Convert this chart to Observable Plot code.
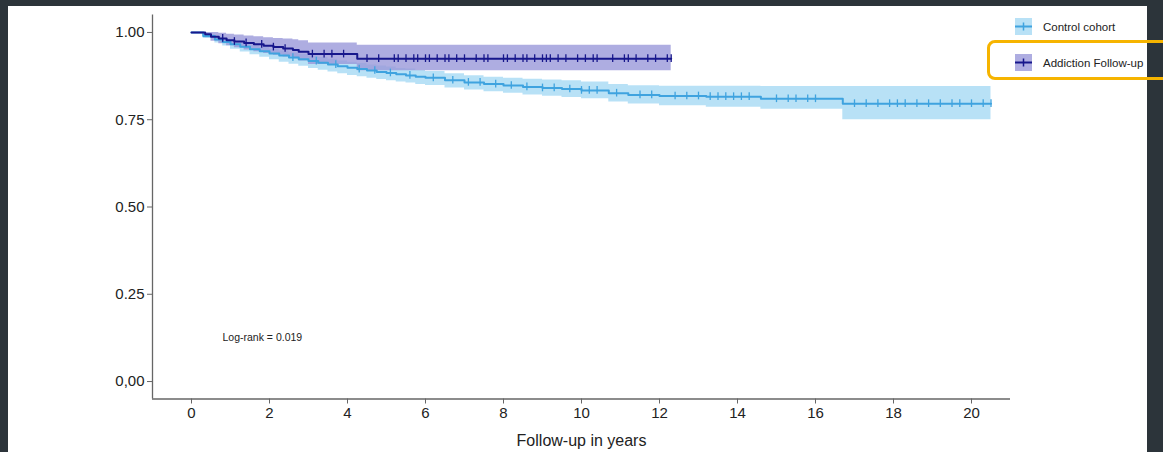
<!DOCTYPE html>
<html>
<head>
<meta charset="utf-8">
<script src="https://cdn.jsdelivr.net/npm/d3@7"></script>
<script src="https://cdn.jsdelivr.net/npm/@observablehq/plot@0.6"></script>
<style>
  html, body { margin: 0; padding: 0; }
  body { width: 1163px; height: 452px; background: #2c343a; position: relative; overflow: hidden; font-family: "Liberation Sans", Arial, sans-serif; }
  #panel { position: absolute; left: 8px; top: 6px; width: 1139px; height: 446px; background: #fff; overflow: hidden; }
  #chart { position: absolute; left: 0; top: 0; }
  .leg { position: absolute; left: 1007px; height: 17px; display: flex; align-items: center; white-space: nowrap; font-size: 11.5px; color: #222; }
  .leg svg { margin-right: 11px; flex: none; }
  #hl { position: absolute; left: 987px; top: 40px; width: 200px; height: 34px; border: 3px solid #f6b400; border-radius: 8px; }
</style>
</head>
<body>
<div id="panel">
  <div id="chart"></div>
  <div class="leg" id="leg1" style="top:12px"></div>
  <div class="leg" id="leg2" style="top:48px"></div>
</div>
<div id="hl"></div>
<script>
// ---- data ----
const seriesNames = ["Control cohort", "Addiction Follow-up"];
const seriesLine = ["#3fa3df", "#17178c"];
const seriesBand = ["#a6daf4", "#9a99d9"];

const controlTime = [0, 0.3, 0.6, 0.8, 1.0, 1.25, 1.5, 1.75, 2.0, 2.25, 2.5, 2.75, 3.0, 3.25, 3.5, 3.75, 4.0, 4.25, 4.5, 4.75, 5.0, 5.25, 5.5, 5.75, 6.0, 6.5, 7.0, 7.5, 8.0, 8.5, 9.0, 9.5, 10.0, 10.7, 11.2, 12.0, 13.2, 14.6, 16.7, 20.5];
const controlSurv = [1.000, 0.990, 0.980, 0.973, 0.966, 0.959, 0.952, 0.946, 0.940, 0.934, 0.928, 0.923, 0.918, 0.913, 0.908, 0.903, 0.899, 0.895, 0.891, 0.887, 0.884, 0.880, 0.877, 0.873, 0.870, 0.863, 0.857, 0.852, 0.848, 0.844, 0.841, 0.838, 0.834, 0.826, 0.821, 0.818, 0.816, 0.810, 0.796, 0.796];
const controlLower = [1.000, 0.983, 0.970, 0.961, 0.952, 0.944, 0.936, 0.929, 0.922, 0.915, 0.909, 0.903, 0.897, 0.892, 0.887, 0.882, 0.877, 0.873, 0.869, 0.865, 0.862, 0.858, 0.855, 0.851, 0.848, 0.841, 0.835, 0.830, 0.826, 0.821, 0.817, 0.814, 0.810, 0.801, 0.795, 0.790, 0.786, 0.780, 0.750, 0.750];
const controlUpper = [1.000, 0.995, 0.987, 0.981, 0.975, 0.969, 0.963, 0.957, 0.952, 0.947, 0.941, 0.937, 0.932, 0.928, 0.923, 0.918, 0.915, 0.911, 0.907, 0.904, 0.901, 0.897, 0.895, 0.891, 0.888, 0.882, 0.876, 0.872, 0.869, 0.866, 0.864, 0.862, 0.858, 0.851, 0.847, 0.846, 0.846, 0.845, 0.845, 0.845];
const controlCensor = [2.6, 3.2, 3.7, 4.3, 4.7, 5.1, 5.6, 6.2, 6.7, 7.1, 7.4, 7.8, 8.2, 8.6, 9.0, 9.3, 9.7, 10.0, 10.2, 10.4, 10.9, 11.5, 11.8, 12.4, 12.7, 13.0, 13.3, 13.5, 13.7, 13.9, 14.1, 14.3, 15.0, 15.3, 15.5, 15.8, 16.0, 17.0, 17.3, 17.6, 17.9, 18.1, 18.3, 18.6, 18.9, 19.2, 19.5, 19.7, 20.0, 20.3, 20.5];

const addictionTime = [0, 0.35, 0.5, 0.7, 0.9, 1.1, 1.35, 1.6, 1.85, 2.1, 2.35, 2.6, 2.75, 3.0, 4.25, 12.3];
const addictionSurv = [1.000, 0.995, 0.988, 0.983, 0.978, 0.974, 0.970, 0.966, 0.962, 0.958, 0.954, 0.950, 0.945, 0.938, 0.925, 0.925];
const addictionLower = [1.000, 0.985, 0.975, 0.968, 0.962, 0.956, 0.950, 0.945, 0.940, 0.935, 0.930, 0.925, 0.918, 0.908, 0.890, 0.890];
const addictionUpper = [1.000, 1.000, 1.000, 0.998, 0.995, 0.993, 0.990, 0.988, 0.985, 0.983, 0.981, 0.979, 0.976, 0.970, 0.963, 0.963];
const addictionCensor = [0.8, 1.1, 1.4, 1.8, 2.1, 2.4, 3.1, 3.4, 3.6, 3.9, 4.5, 4.8, 5.2, 5.3, 5.5, 5.7, 5.8, 6.0, 6.1, 6.3, 6.5, 6.6, 6.8, 7.0, 7.3, 7.5, 7.6, 8.0, 8.1, 8.3, 8.5, 8.6, 8.8, 9.0, 9.1, 9.2, 9.4, 9.6, 9.9, 10.1, 10.3, 10.4, 10.8, 11.1, 11.2, 11.4, 11.7, 11.9, 12.2, 12.3];

const xTicks = [0, 2, 4, 6, 8, 10, 12, 14, 16, 18, 20];
const yTicks = [0, 0.25, 0.5, 0.75, 1];
const yTickLabels = ["0,00", "0.25", "0.50", "0.75", "1.00"];
const xLabel = "Follow-up in years";
const annotation = "Log-rank = 0.019";

// ---- build tables ----
function table(t, s, lo, hi) { return t.map((d, i) => ({t: d, s: s[i], lo: lo[i], hi: hi[i]})); }
const control = table(controlTime, controlSurv, controlLower, controlUpper);
const addiction = table(addictionTime, addictionSurv, addictionLower, addictionUpper);
function survAt(times, surv, x) { const i = d3.bisectRight(times, x) - 1; return surv[Math.max(0, i)]; }
const controlC = controlCensor.map(t => ({t, s: survAt(controlTime, controlSurv, t)}));
const addictionC = addictionCensor.map(t => ({t, s: survAt(addictionTime, addictionSurv, t)}));
const tickHalf = 0.011;

const font = "'Liberation Sans', Arial, sans-serif";
const axisColor = "#666";

const chart = Plot.plot({
  width: 1139,
  height: 446,
  marginLeft: 144,
  marginRight: 137,
  marginTop: 8.5,
  marginBottom: 53.5,
  style: {fontFamily: font, background: "transparent", color: "#222"},
  x: {domain: [-1, 21]},
  y: {domain: [-0.05, 1.05]},
  marks: [
    Plot.areaY(control, {x: "t", y1: "lo", y2: "hi", curve: "step-after", fill: seriesBand[0], fillOpacity: 0.8}),
    Plot.areaY(addiction, {x: "t", y1: "lo", y2: "hi", curve: "step-after", fill: seriesBand[1], fillOpacity: 0.8}),
    Plot.line(control, {x: "t", y: "s", curve: "step-after", stroke: seriesLine[0], strokeWidth: 2}),
    Plot.ruleX(controlC, {x: "t", y1: d => d.s - tickHalf, y2: d => d.s + tickHalf, stroke: seriesLine[0], strokeWidth: 1.3}),
    Plot.line(addiction, {x: "t", y: "s", curve: "step-after", stroke: seriesLine[1], strokeWidth: 2}),
    Plot.ruleX(addictionC, {x: "t", y1: d => d.s - tickHalf, y2: d => d.s + tickHalf, stroke: seriesLine[1], strokeWidth: 1.3}),
    Plot.ruleX([-1], {stroke: axisColor, strokeWidth: 1.3}),
    Plot.ruleY([-0.05], {stroke: axisColor, strokeWidth: 1.3}),
    Plot.axisX({ticks: xTicks, tickSize: 5, tickPadding: 3, fontSize: 15, label: null, stroke: axisColor, fill: "#222"}),
    Plot.axisY({ticks: yTicks, tickSize: 5, tickPadding: 3, fontSize: 15, label: null, stroke: axisColor, fill: "#222",
      tickFormat: d => yTickLabels[yTicks.indexOf(d)]}),
    Plot.text([xLabel], {frameAnchor: "bottom", dy: 41.5, lineAnchor: "middle", fontSize: 16, fill: "#222"}),
    Plot.text([annotation], {frameAnchor: "bottom-left", dx: 70, dy: -61.5, textAnchor: "start", lineAnchor: "middle", fontSize: 10.5, fill: "#222"})
  ]
});
document.getElementById("chart").appendChild(chart);

// ---- legend ----
function swatch(i) {
  return `<svg width="17" height="17"><rect width="17" height="17" fill="${seriesBand[i]}" fill-opacity="0.8"/>` +
    `<line x1="0" x2="17" y1="8.5" y2="8.5" stroke="${seriesLine[i]}" stroke-width="2"/>` +
    `<line x1="8.5" x2="8.5" y1="4.5" y2="12.5" stroke="${seriesLine[i]}" stroke-width="1.5"/></svg>`;
}
document.getElementById("leg1").innerHTML = swatch(0) + `<span>${seriesNames[0]}</span>`;
document.getElementById("leg2").innerHTML = swatch(1) + `<span>${seriesNames[1]}</span>`;
</script>
</body>
</html>
